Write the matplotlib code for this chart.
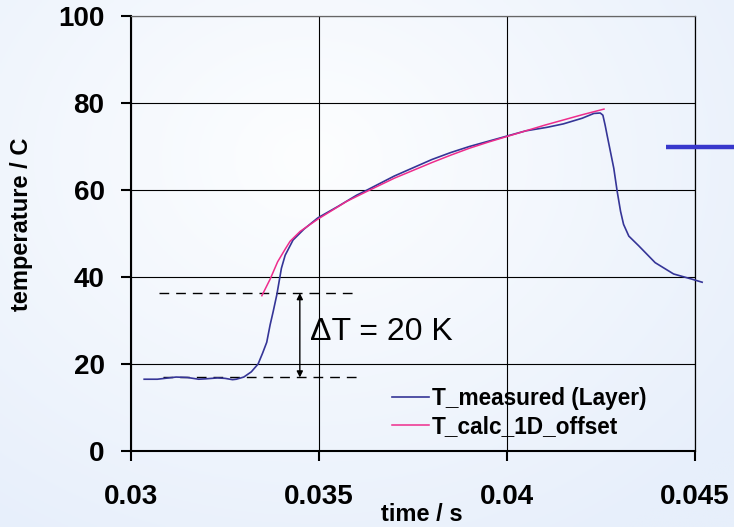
import numpy as np
import matplotlib
matplotlib.use("Agg")
import matplotlib.pyplot as plt
from matplotlib.lines import Line2D

plt.rcParams['font.family'] = ['Liberation Sans', 'DejaVu Sans']

# measured layer temperature
t_meas = [0.03035, 0.0307, 0.0310, 0.0312, 0.0315, 0.0318, 0.0320, 0.0323, 0.0325,
          0.0327, 0.0328, 0.0330, 0.0332, 0.03338, 0.0335, 0.03361, 0.0337, 0.03378,
          0.03388, 0.03396, 0.0340, 0.0341, 0.03431, 0.0346, 0.03497, 0.0355, 0.0360,
          0.03628, 0.0370, 0.0375, 0.0380, 0.0385, 0.0390, 0.0395, 0.0400, 0.0405,
          0.04106, 0.0415, 0.0420, 0.04231, 0.04248, 0.04255, 0.04261, 0.04266,
          0.04284, 0.04293, 0.04302, 0.0431, 0.04324, 0.0435, 0.04394, 0.04443,
          0.04492, 0.04519]
T_meas = [16.5, 16.5, 16.8, 17.0, 16.9, 16.5, 16.6, 16.8, 16.7,
          16.4, 16.5, 17.0, 18.2, 20.0, 22.5, 25.0, 29.0, 32.0,
          36.0, 40.0, 42.0, 45.0, 48.5, 51.0, 53.6, 56.2, 58.8,
          60.0, 63.2, 65.1, 67.0, 68.6, 70.0, 71.2, 72.4, 73.6,
          74.4, 75.2, 76.5, 77.6, 77.7, 77.2, 74.9, 72.7,
          65.0, 59.7, 55.1, 52.1, 49.4, 47.2, 43.3, 40.7,
          39.5, 38.8]

# 1D calculation with offset
t_calc = [0.03348, 0.03370, 0.03390, 0.0341, 0.03423, 0.0345, 0.03497, 0.03574,
          0.03628, 0.0370, 0.0375, 0.0380, 0.0385, 0.0390, 0.0395, 0.0400, 0.0405,
          0.0410, 0.0415, 0.0420, 0.04258]
T_calc = [35.7, 39.5, 43.5, 46.4, 48.2, 50.5, 53.3, 57.4,
          59.7, 62.7, 64.5, 66.3, 68.0, 69.6, 71.0, 72.3, 73.6,
          74.9, 76.1, 77.3, 78.6]

# temperature step annotation
T_low, T_high = 16.9, 36.3
dT_label = "\u0394T = 20 K"

xticks = [0.03, 0.035, 0.04, 0.045]
xticklabels = ["0.03", "0.035", "0.04", "0.045"]
yticks = [0, 20, 40, 60, 80, 100]

W, H = 734, 527
fig = plt.figure(figsize=(W / 100, H / 100), dpi=100)

# soft light-blue background
bg = fig.add_axes([0, 0, 1, 1], zorder=-10)
yy, xx = np.mgrid[0:1:200j, 0:1:280j]
r = np.sqrt(((xx - 0.42) / 0.75) ** 2 + ((yy - 0.30) / 0.85) ** 2)
r = np.clip(r, 0, 1)
c0 = np.array([253, 254, 255]) / 255
c1 = np.array([231, 239, 251]) / 255
img = c0[None, None, :] * (1 - r[..., None]) + c1[None, None, :] * r[..., None]
bg.imshow(img, aspect='auto', extent=[0, 1, 0, 1], origin='upper')
bg.axis('off')

ax = fig.add_axes([131 / W, 1 - 451 / H, (695 - 131) / W, (451 - 16) / H])
ax.set_facecolor('none')

ax.plot(t_meas, T_meas, color='#353597', lw=1.2, label='T_measured (Layer)',
        zorder=3, clip_on=False)
ax.plot(t_calc, T_calc, color='#EE2C8C', lw=1.1, label='T_calc_1D_offset', zorder=4)

ax.set_xlim(0.03, 0.045)
ax.set_ylim(0, 100)
ax.set_xticks(xticks)
ax.set_xticklabels(xticklabels)
ax.set_yticks(yticks)
ax.grid(True, color='black', lw=0.8)
ax.set_axisbelow(True)
for s in ax.spines.values():
    s.set_color('black')
    s.set_linewidth(0.9)
ax.spines['left'].set_linewidth(1.5)
ax.spines['bottom'].set_linewidth(1.5)
ax.spines['top'].set_color('#666666')

ax.tick_params(axis='both', direction='out', length=7, width=1.5, labelsize=20)
ax.tick_params(axis='x', pad=17)
ax.tick_params(axis='y', pad=12)
for lab in ax.get_xticklabels() + ax.get_yticklabels():
    lab.set_fontweight('bold')

ax.set_xlabel('time / s', fontsize=17, fontweight='bold')
ax.xaxis.set_label_coords((422 - 131) / 564, (451 - 503) / 435)
ax.set_ylabel('temperature / C', fontsize=17, fontweight='bold', va='center')
ax.yaxis.set_label_coords((22 - 131) / 564, (451 - 224) / 435)

# dashed reference levels and the step arrow
ax.hlines(T_high, 0.03075, 0.0359, colors='black', lw=1.0, linestyles=(0, (7, 5)), zorder=2)
ax.hlines(T_low, 0.03085, 0.0360, colors='black', lw=1.0, linestyles=(0, (7, 5)), zorder=2)
ax.annotate('', xy=(0.03449, T_high), xytext=(0.03449, T_low),
            arrowprops=dict(arrowstyle='<|-|>', color='black', lw=1.0,
                            mutation_scale=9, shrinkA=0, shrinkB=0))
ax.text(0.03475, (T_low + T_high) / 2 + 0.8, dT_label, fontsize=23,
        va='center', ha='left')

leg = ax.legend(loc='center left', bbox_to_anchor=((392 - 131) / 564, (451 - 412.5) / 435),
                frameon=False, prop={'weight': 'bold', 'size': 16.3},
                handlelength=1.65, handletextpad=0.1, labelspacing=0.2,
                borderpad=0, borderaxespad=0)

# arrow stub on the right margin
fig.add_artist(Line2D([666 / W, 1.0], [1 - 147 / H, 1 - 147 / H], color='#3838CC',
                      lw=3.2, transform=fig.transFigure, solid_capstyle='butt'))

fig.savefig('out.png', dpi=100)
